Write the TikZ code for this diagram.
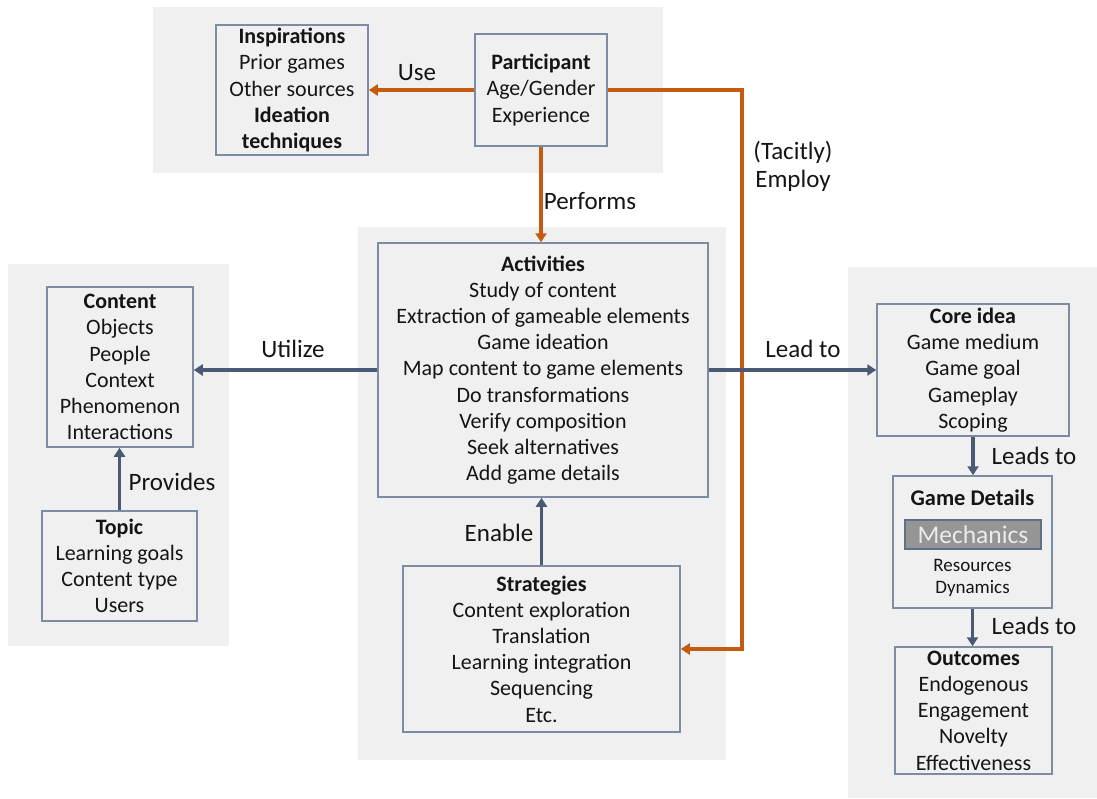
\documentclass[tikz,border=0pt]{standalone}
\usepackage{fontspec}
\setmainfont{Carlito}
\usetikzlibrary{arrows.meta}
\definecolor{panelgrey}{HTML}{F0F0F0}
\definecolor{boxline}{HTML}{7D8CA3}
\definecolor{slate}{HTML}{4B5A74}
\definecolor{rust}{HTML}{C55A11}
\definecolor{inktext}{HTML}{151515}
\definecolor{mechfill}{HTML}{959595}
\definecolor{mechline}{HTML}{5F6F86}
\definecolor{mechtext}{HTML}{EBEBEB}
\tikzset{
  panel/.style={fill=panelgrey, draw=none},
  box/.style={draw=boxline, line width=1.5pt, align=center, inner sep=0pt,
    text=inktext, font=\fontsize{22}{26.2}\selectfont},
  lbl/.style={text=inktext, font=\fontsize{25}{28}\selectfont, inner sep=0pt, align=center},
  flow/.style={draw=slate, line width=3.4pt, -{Triangle[length=9pt,width=11pt]}},
  hot/.style={draw=rust, line width=3.4pt, -{Triangle[length=9pt,width=11pt]}},
}
\begin{document}
\begin{tikzpicture}[x=1pt,y=-1pt]
\useasboundingbox (0,0) rectangle (1097,798);

% grey group panels
\fill[panel] (153,7) rectangle (663,173);
\fill[panel] (8,264) rectangle (229,646);
\fill[panel] (358,227) rectangle (726,760);
\fill[panel] (848,267) rectangle (1097,798);

% top group
\node[box, minimum width=152, minimum height=130] (insp) at (292,90)
  {\textbf{Inspirations}\\Prior games\\Other sources\\\textbf{Ideation}\\\textbf{techniques}};
\node[box, minimum width=132, minimum height=112] (part) at (541,90)
  {\textbf{Participant}\\Age/Gender\\Experience};

% middle group
\node[box, minimum width=330, minimum height=254] (act) at (543,370)
  {\textbf{Activities}\\Study of content\\Extraction of gameable elements\\Game ideation\\Map content to game elements\\Do transformations\\Verify composition\\Seek alternatives\\Add game details};
\node[box, minimum width=277, minimum height=166] (strat) at (541.5,649)
  {\textbf{Strategies}\\Content exploration\\Translation\\Learning integration\\Sequencing\\Etc.};

% left group
\node[box, minimum width=146, minimum height=160] (content) at (120,367)
  {\textbf{Content}\\Objects\\People\\Context\\Phenomenon\\Interactions};
\node[box, minimum width=155, minimum height=110] (topic) at (119.5,566)
  {\textbf{Topic}\\Learning goals\\Content type\\Users};

% right group
\node[box, minimum width=192, minimum height=132] (core) at (973,370)
  {\textbf{Core idea}\\Game medium\\Game goal\\Gameplay\\Scoping};
\node[box, minimum width=159, minimum height=132] (gd) at (972.5,542) {};
\node[text=inktext, font=\fontsize{22.4}{24}\selectfont\bfseries, inner sep=0pt] (gdtitle) at (972.5,498) {Game Details};
\node[fill=mechfill, draw=mechline, line width=1.5pt, minimum width=136, minimum height=29,
  inner sep=0pt, text=mechtext, font=\fontsize{25.5}{26}\selectfont] (mech) at (973,534.5) {Mechanics};
\node[text=inktext, font=\fontsize{19}{22}\selectfont, align=center, inner sep=0pt] (gdlist) at (972.5,578)
  {Resources\\Dynamics};
\node[box, minimum width=157, minimum height=127] (out) at (973.5,710.5)
  {\textbf{Outcomes}\\Endogenous\\Engagement\\Novelty\\Effectiveness};

% connectors
\draw[hot] (part.west) -- (insp.east);
\draw[hot] (part.south) -- (part.south |- act.north);
\coordinate (tacit) at (742,649);
\draw[hot] (part.east) -| (tacit) -- (strat.east);
\draw[flow] (act.west) -- (act.west -| content.east);
\draw[flow] (act.east) -- (act.east -| core.west);
\draw[flow] (strat.north) -- (strat.north |- act.south);
\draw[flow] (topic.north) -- (topic.north |- content.south);
\draw[flow] (core.south) -- (core.south |- gd.north);
\draw[flow] (gd.south) -- (gd.south |- out.north);

% connector labels
\node[lbl] (luse) at (417,73) {Use};
\node[lbl] (lperf) at (590,201) {Performs};
\node[lbl] (ltac) at (793,166) {(Tacitly)\\Employ};
\node[lbl] (lutil) at (293,349) {Utilize};
\node[lbl] (llead) at (803,349) {Lead to};
\node[lbl] (lprov) at (172,482) {Provides};
\node[lbl] (lenab) at (499,533) {Enable};
\node[lbl] (lleads1) at (1034,456) {Leads to};
\node[lbl] (lleads2) at (1034,626) {Leads to};
\end{tikzpicture}
\end{document}
